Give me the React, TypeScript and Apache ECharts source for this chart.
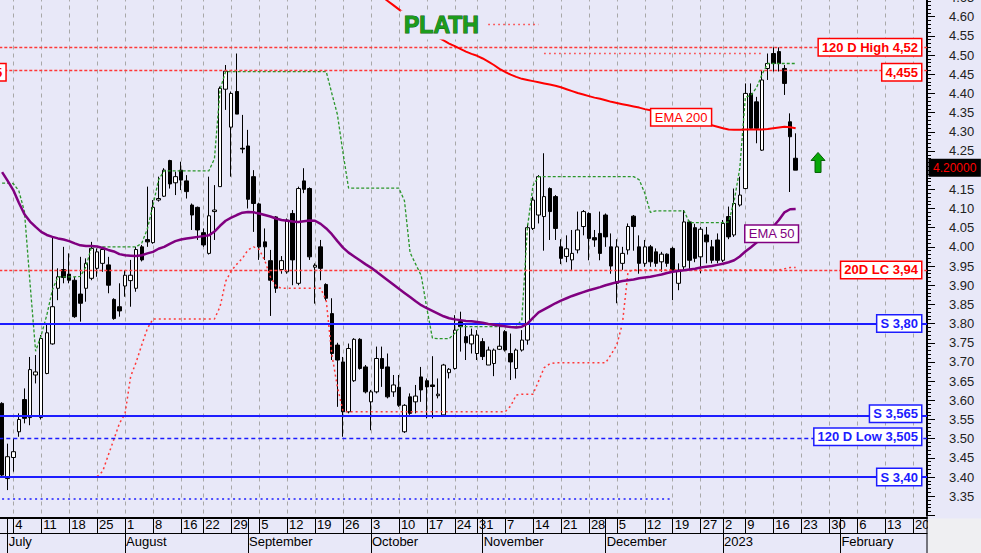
import { useEffect, useRef } from "react";
import * as echarts from "echarts";

// ---------- categories ----------
const START_DATE = "2022-06-30";
const TRADING_DAYS = 166;
const HOLIDAYS = ["2022-08-15", "2022-10-26", "2022-12-26", "2023-01-06"];
const MONTH_KEYS = ["2022-07", "2022-08", "2022-09", "2022-10", "2022-11", "2022-12", "2023-01", "2023-02"];
const MONTH_LABELS = ["July", "August", "September", "October", "November", "December", "2023", "February"];

// ---------- candles ----------
const OPEN = [
  3.592, 3.396, 3.451, 3.518, 3.602, 3.555, 3.666, 3.555, 3.670, 3.747,
  3.892, 3.941, 3.929, 3.913, 3.877, 3.892, 3.918, 3.944, 3.957, 3.953,
  3.863, 3.844, 3.898, 3.912, 3.892, 4.000, 4.019, 4.011, 4.122, 4.132,
  4.225, 4.167, 4.200, 4.172, 4.109, 4.103, 4.037, 3.983, 4.092, 4.157,
  4.411, 4.312, 4.405, 4.257, 4.263, 4.183, 4.112, 4.013, 3.964, 4.078,
  3.941, 3.935, 4.087, 3.905, 4.172, 4.152, 3.947, 4.000, 3.902, 3.826,
  3.744, 3.700, 3.570, 3.651, 3.759, 3.687, 3.596, 3.622, 3.709, 3.687,
  3.622, 3.634, 3.518, 3.609, 3.596, 3.661, 3.651, 3.640, 3.612, 3.562,
  3.672, 3.683, 3.805, 3.766, 3.747, 3.722, 3.753, 3.692, 3.696, 3.733,
  3.779, 3.722, 3.683, 3.731, 3.757, 4.048, 4.083, 4.079, 4.152, 4.131,
  4.000, 3.975, 3.966, 3.992, 4.053, 4.087, 4.024, 4.035, 4.083, 4.000,
  3.905, 3.957, 3.992, 4.080, 4.000, 3.957, 4.000, 3.987, 3.961, 3.981,
  3.996, 3.905, 3.948, 4.065, 4.050, 3.974, 4.031, 4.000, 4.018, 3.965,
  4.079, 4.031, 4.109, 4.152, 4.400, 4.378, 4.252, 4.465, 4.504, 4.509,
  4.465, 4.326, 4.231,
];
const CLOSE = [
  3.405, 3.453, 3.466, 3.550, 3.553, 3.680, 3.674, 3.761, 3.776, 3.844,
  3.922, 3.920, 3.913, 3.818, 3.853, 3.957, 3.996, 3.987, 3.993, 3.900,
  3.813, 3.833, 3.926, 3.926, 3.993, 3.966, 4.013, 4.103, 4.126, 4.200,
  4.164, 4.183, 4.174, 4.144, 4.083, 4.044, 4.005, 4.081, 4.096, 4.413,
  4.458, 4.400, 4.346, 4.255, 4.124, 4.113, 4.000, 4.000, 3.913, 3.892,
  3.964, 4.070, 3.966, 4.152, 4.150, 3.974, 3.952, 3.944, 3.866, 3.722,
  3.705, 3.570, 3.735, 3.759, 3.683, 3.622, 3.622, 3.709, 3.683, 3.609,
  3.640, 3.587, 3.587, 3.566, 3.611, 3.627, 3.635, 3.636, 3.616, 3.692,
  3.681, 3.783, 3.792, 3.750, 3.770, 3.770, 3.714, 3.731, 3.731, 3.741,
  3.731, 3.700, 3.731, 3.757, 4.050, 4.122, 4.183, 4.131, 4.092, 4.048,
  3.970, 3.995, 3.983, 4.044, 4.092, 4.022, 4.018, 3.983, 4.026, 3.950,
  4.000, 3.983, 4.053, 4.053, 3.957, 4.000, 3.961, 3.957, 3.981, 3.957,
  3.939, 3.939, 4.065, 3.965, 3.970, 4.046, 4.013, 3.965, 3.965, 4.061,
  4.026, 4.113, 4.135, 4.400, 4.309, 4.309, 4.435, 4.478, 4.478, 4.478,
  4.426, 4.287, 4.200,
];
const LOW = [
  3.400, 3.366, 3.414, 3.505, 3.540, 3.535, 3.644, 3.550, 3.668, 3.745,
  3.861, 3.905, 3.905, 3.815, 3.805, 3.857, 3.913, 3.922, 3.935, 3.879,
  3.810, 3.818, 3.870, 3.844, 3.883, 3.962, 4.000, 4.008, 4.118, 4.130,
  4.152, 4.135, 4.148, 4.126, 4.044, 4.018, 4.000, 3.980, 4.018, 4.157,
  4.357, 4.183, 4.346, 4.244, 4.100, 4.039, 3.966, 3.966, 3.820, 3.880,
  3.930, 3.930, 3.900, 3.900, 4.140, 3.966, 3.852, 3.913, 3.860, 3.705,
  3.583, 3.505, 3.566, 3.648, 3.680, 3.618, 3.522, 3.618, 3.635, 3.605,
  3.609, 3.583, 3.515, 3.562, 3.566, 3.596, 3.553, 3.553, 3.605, 3.560,
  3.657, 3.680, 3.727, 3.705, 3.722, 3.705, 3.705, 3.692, 3.663, 3.731,
  3.727, 3.653, 3.657, 3.727, 3.745, 4.044, 4.061, 3.990, 4.018, 4.018,
  3.955, 3.960, 3.940, 3.983, 4.030, 3.965, 4.000, 3.965, 4.000, 3.930,
  3.853, 3.940, 3.980, 3.990, 3.930, 3.948, 3.948, 3.948, 3.935, 3.948,
  3.861, 3.887, 3.939, 3.939, 3.960, 3.931, 3.957, 3.957, 3.957, 3.960,
  4.020, 4.026, 4.105, 4.150, 4.305, 4.270, 4.250, 4.435, 4.457, 4.457,
  4.396, 4.143, 4.200,
];
const HIGH = [
  3.595, 3.487, 3.500, 3.566, 3.631, 3.713, 3.718, 3.770, 3.800, 4.025,
  3.944, 4.000, 3.983, 3.922, 3.974, 3.970, 4.013, 3.996, 4.000, 3.974,
  3.866, 3.905, 3.939, 3.966, 4.000, 4.005, 4.157, 4.122, 4.183, 4.205,
  4.227, 4.196, 4.222, 4.187, 4.113, 4.105, 4.048, 4.183, 4.161, 4.418,
  4.474, 4.405, 4.504, 4.344, 4.305, 4.200, 4.115, 4.048, 3.992, 4.080,
  3.976, 4.074, 4.096, 4.157, 4.205, 4.155, 3.957, 4.018, 3.905, 3.866,
  3.750, 3.713, 3.748, 3.762, 3.762, 3.692, 3.627, 3.740, 3.740, 3.722,
  3.666, 3.666, 3.590, 3.618, 3.640, 3.687, 3.657, 3.715, 3.657, 3.695,
  3.684, 3.822, 3.831, 3.796, 3.787, 3.783, 3.762, 3.740, 3.735, 3.802,
  3.783, 3.774, 3.735, 3.783, 4.060, 4.131, 4.187, 4.244, 4.155, 4.135,
  4.020, 4.030, 4.044, 4.092, 4.096, 4.090, 4.044, 4.092, 4.087, 4.035,
  4.020, 4.000, 4.061, 4.083, 4.030, 4.018, 4.005, 3.996, 3.987, 3.983,
  4.000, 3.957, 4.096, 4.068, 4.060, 4.052, 4.052, 4.018, 4.035, 4.070,
  4.105, 4.152, 4.183, 4.426, 4.426, 4.391, 4.461, 4.504, 4.520, 4.520,
  4.474, 4.348, 4.296,
];

// ---------- indicators ----------
const EMA50 = [
  4.195, 4.172, 4.148, 4.115, 4.085, 4.066, 4.052, 4.039, 4.031, 4.026,
  4.022, 4.019, 4.015, 4.009, 4.004, 4.002, 4.002, 4.001, 3.997, 3.992,
  3.988, 3.981, 3.978, 3.977, 3.976, 3.978, 3.983, 3.987, 3.995, 4.000,
  4.008, 4.015, 4.019, 4.022, 4.024, 4.026, 4.028, 4.030, 4.040, 4.055,
  4.068, 4.076, 4.083, 4.089, 4.091, 4.090, 4.087, 4.083, 4.079, 4.074,
  4.070, 4.068, 4.066, 4.065, 4.067, 4.069, 4.068, 4.060, 4.048, 4.033,
  4.015, 3.998, 3.985, 3.975, 3.965, 3.955, 3.946, 3.935, 3.924, 3.913,
  3.902, 3.891, 3.880, 3.869, 3.858, 3.848, 3.840, 3.833, 3.826, 3.819,
  3.814, 3.811, 3.809, 3.807, 3.806, 3.804, 3.802, 3.799, 3.797, 3.795,
  3.793, 3.791, 3.790, 3.792, 3.800, 3.815, 3.829, 3.837, 3.845, 3.853,
  3.860, 3.866, 3.872, 3.877, 3.882, 3.887, 3.891, 3.895, 3.900, 3.904,
  3.908, 3.911, 3.913, 3.915, 3.918, 3.920, 3.922, 3.925, 3.928, 3.932,
  3.935, 3.937, 3.939, 3.941, 3.943, 3.946, 3.948, 3.950, 3.953, 3.956,
  3.960, 3.965, 3.975, 3.988, 3.999, 4.011, 4.025, 4.039, 4.053, 4.070,
  4.090, 4.098, 4.099,
];
const EMA200_START = 66;
const EMA200 = [
  4.674, 4.663, 4.652, 4.641, 4.630, 4.619, 4.608, 4.597, 4.586, 4.576,
  4.566, 4.556, 4.546, 4.538, 4.530, 4.523, 4.516, 4.509, 4.503, 4.498,
  4.491, 4.483, 4.474, 4.464, 4.456, 4.449, 4.443, 4.438, 4.435, 4.432,
  4.429, 4.426, 4.423, 4.420, 4.416, 4.411, 4.406, 4.401, 4.397, 4.393,
  4.389, 4.386, 4.382, 4.378, 4.375, 4.372, 4.369, 4.366, 4.363, 4.359,
  4.356, 4.352, 4.348, 4.345, 4.341, 4.338, 4.334, 4.331, 4.327, 4.323,
  4.321, 4.317, 4.313, 4.309, 4.306, 4.305, 4.305, 4.306, 4.306, 4.306,
  4.306, 4.307, 4.309, 4.311, 4.313, 4.312, 4.309,
];
const UPPER_STOP = [
  4.166, 4.166, 4.165, 4.146, 4.092, 3.905, 3.728, 3.770, 3.822, 3.888,
  3.922, 3.922, 3.922, 3.922, 3.923, 3.948, 4.000, 4.000, 4.000, 4.000,
  4.000, 4.000, 4.000, 4.000, 4.000, 4.010, 4.047, 4.108, 4.175, 4.198,
  4.198, 4.198, 4.198, 4.198, 4.198, 4.198, 4.198, 4.198, 4.230, 4.410,
  4.457, 4.457, 4.457, 4.457, 4.457, 4.457, 4.457, 4.457, 4.457, 4.457,
  4.457, 4.457, 4.457, 4.457, 4.457, 4.457, 4.457, 4.457, 4.457, 4.400,
  4.345, 4.245, 4.153, 4.153, 4.153, 4.153, 4.153, 4.153, 4.153, 4.153,
  4.153, 4.153, 4.120, 3.985, 3.955, 3.925, 3.840, 3.762, 3.761, 3.761,
  3.761, 3.775, 3.792, 3.792, 3.792, 3.792, 3.792, 3.792, 3.792, 3.792,
  3.792, 3.792, 3.792, 3.810, 4.050, 4.160, 4.183, 4.183, 4.183, 4.183,
  4.183, 4.183, 4.183, 4.183, 4.183, 4.183, 4.183, 4.183, 4.183, 4.183,
  4.183, 4.183, 4.183, 4.183, 4.175, 4.140, 4.090, 4.094, 4.094, 4.094,
  4.094, 4.094, 4.094, 4.063, 4.063, 4.063, 4.063, 4.063, 4.063, 4.063,
  4.065, 4.120, 4.205, 4.390, 4.395, 4.415, 4.450, 4.478, 4.478, 4.478,
  4.478, 4.478, 4.478,
];
const LOWER_STOP = [
  3.401, 3.401, 3.401, 3.401, 3.401, 3.401, 3.401, 3.401, 3.401, 3.401,
  3.401, 3.401, 3.401, 3.401, 3.401, 3.401, 3.401, 3.401, 3.415, 3.457,
  3.498, 3.540, 3.565, 3.662, 3.700, 3.745, 3.787, 3.812, 3.812, 3.812,
  3.812, 3.812, 3.812, 3.812, 3.812, 3.812, 3.812, 3.812, 3.812, 3.844,
  3.910, 3.937, 3.955, 3.970, 3.992, 4.000, 3.993, 3.965, 3.922, 3.898,
  3.892, 3.892, 3.892, 3.892, 3.892, 3.892, 3.892, 3.892, 3.860, 3.720,
  3.635, 3.572, 3.570, 3.570, 3.570, 3.570, 3.570, 3.570, 3.570, 3.570,
  3.570, 3.570, 3.570, 3.570, 3.570, 3.570, 3.570, 3.570, 3.570, 3.570,
  3.570, 3.570, 3.570, 3.570, 3.570, 3.570, 3.570, 3.570, 3.570, 3.570,
  3.570, 3.585, 3.614, 3.616, 3.616, 3.616, 3.650, 3.685, 3.695, 3.698,
  3.698, 3.698, 3.698, 3.698, 3.698, 3.698, 3.698, 3.698, 3.698, 3.720,
  3.745, 3.800, 3.935, 3.940, 3.940, 3.940, 3.940, 3.940, 3.940, 3.940,
  3.940, 3.940, 3.940, 3.940, 3.940, 3.940, 3.940, 3.940, 3.940, 3.940,
  3.940, 3.940, 3.940, 3.940, 3.940, 3.940, 3.940, 3.940, 3.940, 3.940,
  3.943, 3.946, 3.946,
];

// ---------- horizontal levels and annotations ----------
const LEVEL_VALUES = [4.52, 4.455, 3.94, 3.8, 3.565, 3.505, 3.4];
const LEVEL_TEXTS = ["120 D High 4,52", "4,455", "20D LC 3,94", "S 3,80", "S 3,565", "120 D Low 3,505", "S 3,40"];
const SEGMENT_FROM = [87, 97, 0];
const SEGMENT_TO = [96, 136, 120];
const SEGMENT_VALUES = [4.581, 4.505, 3.344];
const ANNOT_TEXTS = ["EMA 200", "EMA 50"];
const ANNOT_IDX = [121.5, 137.7];
const ANNOT_VALUES = [4.338, 4.034];
const LAST_PRICE_TEXT = "4.20000";
const ARROW_IDX = 146;
const ARROW_VALUE = 4.22;
const Y_MIN = 3.3;
const Y_MAX = 4.65;
const Y_STEP = 0.05;
const TITLE = "PLATH";

// ---------- styles ----------
const BG = "#e8e8f8";
const RED = "#ff0000";
const RED_DASH = "#ff3838";
const BLUE = "#1c1cff";
const PURPLE = "#800080";
const GREEN = "#2a962a";
const FONT = "Arial, 'Liberation Sans', sans-serif";
const LEVEL_STYLE: any[] = [
  { color: RED_DASH, type: [3, 2], width: 1.3 },
  { color: RED_DASH, type: [3, 2], width: 1.3 },
  { color: RED_DASH, type: [3, 2], width: 1.3 },
  { color: BLUE, type: "solid", width: 1.8 },
  { color: BLUE, type: "solid", width: 1.8 },
  { color: BLUE, type: [4, 3], width: 1.3 },
  { color: BLUE, type: "solid", width: 1.8 },
];
const LEVEL_LABEL_COLOR = [RED, RED, RED, BLUE, BLUE, BLUE, BLUE];
const SEGMENT_STYLE: any[] = [
  { color: RED_DASH, type: [1.5, 3.5], width: 1.3 },
  { color: RED_DASH, type: [1.5, 3.5], width: 1.3 },
  { color: BLUE, type: [2, 3.5], width: 1.5 },
];
const ANNOT_COLOR = [RED, PURPLE];

function buildDates(): string[] {
  const out: string[] = [];
  const d = new Date(START_DATE + "T00:00:00Z");
  while (out.length < TRADING_DAYS) {
    const wd = d.getUTCDay();
    const s = d.toISOString().slice(0, 10);
    if (wd !== 0 && wd !== 6 && HOLIDAYS.indexOf(s) < 0) out.push(s);
    d.setUTCDate(d.getUTCDate() + 1);
  }
  return out;
}

export default function App() {
  const ref = useRef<HTMLDivElement>(null);

  useEffect(() => {
    const el = ref.current;
    if (!el) return;
    const chart = echarts.init(el, undefined, { renderer: "svg" });

    const dates = buildDates();
    const wd = (s: string) => new Date(s + "T00:00:00Z").getUTCDay();
    const isWeekStart = (i: number) => i > 0 && wd(dates[i]) < wd(dates[i - 1]);
    const isMonthStart = (i: number) => i > 0 && dates[i].slice(0, 7) !== dates[i - 1].slice(0, 7);
    const lastClose = CLOSE[CLOSE.length - 1];

    const candles = OPEN.map((o, i) => [o, CLOSE[i], LOW[i], HIGH[i]]);
    const ema200 = dates.slice(0, OPEN.length).map((_, i) =>
      i >= EMA200_START && i - EMA200_START < EMA200.length ? EMA200[i - EMA200_START] : null
    );

    const markLineData: any[] = [];
    LEVEL_VALUES.forEach((v, k) => {
      markLineData.push({ yAxis: v, lineStyle: LEVEL_STYLE[k] });
    });
    SEGMENT_VALUES.forEach((v, k) => {
      markLineData.push([
        { coord: [SEGMENT_FROM[k], v], lineStyle: SEGMENT_STYLE[k] },
        { coord: [SEGMENT_TO[k], v] },
      ]);
    });

    const option: any = {
      animation: false,
      backgroundColor: BG,
      title: {
        text: TITLE,
        left: 401,
        top: 11,
        padding: [2, 3, 3, 3],
        backgroundColor: BG,
        textStyle: {
          color: "#1c9c1c",
          fontSize: 23,
          fontWeight: 900,
          fontFamily: FONT,
          textBorderColor: "#0b5e0b",
          textBorderWidth: 1,
        },
      },
      grid: {
        left: -0.7,
        right: 54,
        top: -2.5,
        bottom: 37.6,
        containLabel: false,
        outerBoundsMode: "none",
      },
      xAxis: [
        {
          type: "category",
          data: dates,
          boundaryGap: true,
          position: "bottom",
          offset: 2,
          axisLine: { show: true, lineStyle: { color: "#000", width: 2 } },
          axisTick: {
            show: true,
            alignWithLabel: true,
            length: 16,
            interval: (i: number) => isWeekStart(i) || isMonthStart(i),
            lineStyle: { color: "#000", width: 1 },
          },
          axisLabel: {
            interval: (i: number) => isWeekStart(i),
            formatter: (v: string) => String(parseInt(v.slice(8), 10)),
            align: "left",
            padding: [0, 0, 0, 2],
            margin: 1,
            fontSize: 13,
            color: "#000",
            fontFamily: FONT,
          },
          splitLine: {
            show: true,
            alignWithLabel: true,
            interval: (i: number) => isWeekStart(i),
            lineStyle: { color: "#a8a8a8", type: [4, 4], width: 1 },
          },
        },
        {
          type: "category",
          data: dates,
          boundaryGap: true,
          position: "bottom",
          offset: 18,
          axisLine: { show: true, lineStyle: { color: "#000", width: 1 } },
          axisTick: {
            show: true,
            alignWithLabel: true,
            length: 20,
            interval: (i: number) => isMonthStart(i),
            lineStyle: { color: "#000", width: 1 },
          },
          axisLabel: {
            interval: (i: number) => isMonthStart(i),
            formatter: (v: string) => {
              const k = MONTH_KEYS.indexOf(v.slice(0, 7));
              return k >= 0 ? MONTH_LABELS[k] : "";
            },
            align: "left",
            padding: [0, 0, 0, 1],
            margin: 2,
            fontSize: 13,
            color: "#000",
            fontFamily: FONT,
          },
          splitLine: { show: false },
        },
      ],
      yAxis: {
        type: "value",
        position: "right",
        min: Y_MIN,
        max: Y_MAX,
        interval: Y_STEP,
        axisLine: { show: true, lineStyle: { color: "#000", width: 2 } },
        axisTick: { show: true, length: 8, lineStyle: { color: "#000" } },
        minorTick: { show: true, splitNumber: 5, length: 4, lineStyle: { color: "#000" } },
        splitLine: { show: false },
        minorSplitLine: { show: false },
        axisLabel: {
          showMinLabel: false,
          // the tick under the last-price tag is covered by it
          formatter: (v: number) => (Math.abs(v - lastClose) < 0.001 ? "" : v.toFixed(2)),
          margin: 22,
          fontSize: 13,
          color: "#222",
          fontFamily: FONT,
        },
      },
      series: [
        {
          name: "PLATH",
          type: "candlestick",
          data: candles,
          barWidth: 4,
          z: 3,
          itemStyle: {
            color: "#ffffff",
            color0: "#000000",
            borderColor: "#000000",
            borderColor0: "#000000",
            borderWidth: 1,
          },
          markLine: {
            silent: true,
            symbol: ["none", "none"],
            label: { show: false },
            data: markLineData,
          },
        },
        {
          name: "Upper stop",
          type: "line",
          data: UPPER_STOP,
          symbol: "none",
          z: 4,
          lineStyle: { color: GREEN, width: 1.3, type: [3, 2] },
        },
        {
          name: "Lower stop",
          type: "line",
          data: LOWER_STOP,
          symbol: "none",
          z: 4,
          lineStyle: { color: RED_DASH, width: 1.5, type: [2, 3] },
        },
        {
          name: "EMA 200",
          type: "line",
          data: ema200,
          symbol: "none",
          z: 5,
          lineStyle: { color: RED, width: 2 },
        },
        {
          name: "EMA 50",
          type: "line",
          data: EMA50,
          symbol: "none",
          z: 5,
          lineStyle: { color: PURPLE, width: 2.5 },
        },
      ],
    };

    chart.setOption(option);

    // ---- annotations positioned through the chart's own scales ----
    const cx = (idx: number) => {
      const a = chart.convertToPixel({ xAxisIndex: 0 }, 0) as number;
      const b = chart.convertToPixel({ xAxisIndex: 0 }, 1) as number;
      return a + (b - a) * idx;
    };
    const cy = (v: number) => chart.convertToPixel({ yAxisIndex: 0 }, v) as number;
    const w = cx(1) - cx(0);
    const gridLeft = cx(0) - w / 2;
    const gridRight = gridLeft + w * TRADING_DAYS;
    const gridBottom = cy(Y_MIN);

    const boxText = (
      text: string,
      x: number,
      y: number,
      align: string,
      color: string,
      font: string,
      bg = "#ffffff",
      border?: string
    ) => ({
      type: "text",
      z: 50,
      silent: true,
      style: {
        text,
        x,
        y,
        align,
        textAlign: align,
        verticalAlign: "middle",
        textVerticalAlign: "middle",
        fill: color,
        font,
        backgroundColor: bg,
        borderColor: border || color,
        borderWidth: 1.5,
        padding: [2, 3, 1, 3],
      },
    });

    const graphics: any[] = [];
    graphics.push({
      type: "rect",
      z: 40,
      silent: true,
      shape: { x: gridRight + 1, y: gridBottom + 3, width: 60, height: 60 },
      style: { fill: "#efeff2" },
    });
    graphics.push({
      type: "line",
      z: 41,
      silent: true,
      shape: { x1: gridRight, y1: gridBottom, x2: gridRight, y2: gridBottom + 60 },
      style: { stroke: "#000", lineWidth: 1 },
    });
    LEVEL_VALUES.forEach((v, k) => {
      graphics.push(
        boxText(LEVEL_TEXTS[k], gridRight - 6, cy(v), "right", LEVEL_LABEL_COLOR[k], "bold 13px " + FONT)
      );
    });
    // copy of the 4,455 tag that sits at the chart's left edge
    graphics.push(boxText(LEVEL_TEXTS[1], gridLeft + 6, cy(LEVEL_VALUES[1]), "right", RED, "bold 13px " + FONT));
    ANNOT_TEXTS.forEach((t, k) => {
      graphics.push(boxText(t, cx(ANNOT_IDX[k]), cy(ANNOT_VALUES[k]), "center", ANNOT_COLOR[k], "13px " + FONT));
    });
    graphics.push(
      boxText(LAST_PRICE_TEXT, gridRight + 3, cy(lastClose) - 2.5, "left", RED, "12px " + FONT, "#000000", "#000000")
    );
    const ax = cx(ARROW_IDX);
    const ay = cy(ARROW_VALUE);
    graphics.push({
      type: "polygon",
      z: 50,
      silent: true,
      shape: {
        points: [
          [ax, ay - 10],
          [ax + 7, ay - 2],
          [ax + 3, ay - 2],
          [ax + 3, ay + 10],
          [ax - 3, ay + 10],
          [ax - 3, ay - 2],
          [ax - 7, ay - 2],
        ],
      },
      style: { fill: "#08a808", stroke: "#056005", lineWidth: 1 },
    });

    chart.setOption({ graphic: graphics });

    return () => chart.dispose();
  }, []);

  return (
    <div
      ref={ref}
      style={{ position: "fixed", left: 0, top: 0, width: 981, height: 553 }}
    />
  );
}
